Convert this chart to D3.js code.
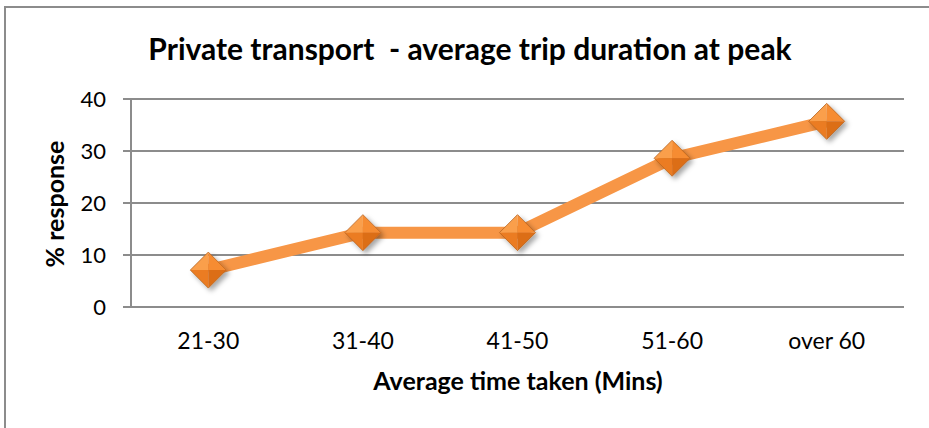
<!DOCTYPE html>
<html lang="en">
<head>
<meta charset="utf-8">
<title>Private transport</title>
<style>
  body { margin: 0; background: #fff; }
  svg { display: block; }
</style>
<script src="https://cdn.jsdelivr.net/npm/d3@7"></script>
</head>
<body>
<script>
// data
var categories = ["21-30", "31-40", "41-50", "51-60", "over 60"];
var responses = [7.1, 14.3, 14.3, 28.6, 35.7];
var yTicks = [0, 10, 20, 30, 40];

var w = 929, h = 428;
var plot = { left: 131, right: 904, top: 99, bottom: 307 };
var font = "Lato, 'Open Sans', sans-serif";

var svg = d3.select("body").append("svg")
    .attr("width", w)
    .attr("height", h);

// chart frame
svg.append("rect")
   .attr("x", 5).attr("y", 7)
   .attr("width", w + 10).attr("height", h + 10)
   .attr("fill", "#fff")
   .attr("stroke", "#8c8c8c")
   .attr("stroke-width", 2);

var defs = svg.append("defs");
var shadow = defs.append("filter").attr("id", "shadow")
    .attr("x", "-50%").attr("y", "-50%").attr("width", "200%").attr("height", "200%");
shadow.append("feDropShadow")
    .attr("dx", 3).attr("dy", 3).attr("stdDeviation", 2.5)
    .attr("flood-color", "#000").attr("flood-opacity", 0.35);

var x = d3.scaleBand().domain(categories).range([plot.left, plot.right]);
var y = d3.scaleLinear().domain([0, 40]).range([plot.bottom, plot.top]);

// gridlines
svg.append("g")
   .selectAll("line")
   .data(yTicks)
   .enter().append("line")
   .attr("x1", plot.left - 8).attr("x2", plot.right)
   .attr("y1", function (d) { return y(d); })
   .attr("y2", function (d) { return y(d); })
   .attr("stroke", "#8c8c8c")
   .attr("stroke-width", 2);

// y axis line
svg.append("line")
   .attr("x1", plot.left).attr("x2", plot.left)
   .attr("y1", plot.top).attr("y2", plot.bottom)
   .attr("stroke", "#8c8c8c")
   .attr("stroke-width", 2);

// y tick labels
svg.append("g")
   .selectAll("text")
   .data(yTicks)
   .enter().append("text")
   .attr("x", 106)
   .attr("y", function (d) { return y(d); })
   .attr("dy", "0.35em")
   .attr("text-anchor", "end")
   .style("font-family", font)
   .style("font-size", "22px")
   .attr("fill", "#000")
   .text(function (d) { return d; });

// x tick labels
svg.append("g")
   .selectAll("text")
   .data(categories)
   .enter().append("text")
   .attr("x", function (d) { return x(d) + x.bandwidth() / 2; })
   .attr("y", 349)
   .attr("text-anchor", "middle")
   .style("font-family", font)
   .style("font-size", "23px")
   .attr("fill", "#000")
   .text(function (d) { return d; });

// title (keeps the double space of the original)
svg.append("text")
   .attr("x", 470).attr("y", 60)
   .attr("text-anchor", "middle")
   .style("font-family", font)
   .style("font-weight", "bold")
   .style("font-size", "30px")
   .style("white-space", "pre")
   .text("Private transport  - average trip duration at peak");

// axis titles
svg.append("text")
   .attr("x", 518).attr("y", 390)
   .attr("text-anchor", "middle")
   .style("font-family", font)
   .style("font-weight", "bold")
   .style("font-size", "25px")
   .text("Average time taken (Mins)");

svg.append("text")
   .attr("transform", "translate(64,204) rotate(-90)")
   .attr("text-anchor", "middle")
   .style("font-family", font)
   .style("font-weight", "bold")
   .style("font-size", "25px")
   .text("% response");

// series line
var pts = categories.map(function (c, i) {
  return [x(c) + x.bandwidth() / 2, y(responses[i])];
});
svg.append("path")
   .attr("d", d3.line()(pts))
   .attr("fill", "none")
   .attr("stroke", "#f79646")
   .attr("stroke-width", 12)
   .attr("stroke-linejoin", "round");

// diamond markers with four shaded facets
var r = 18;
var facets = [
  { d: function (p) { return "M" + p[0] + "," + (p[1] - r) + "L" + (p[0] - r) + "," + p[1] + "L" + p[0] + "," + p[1] + "Z"; }, fill: "#fa9f4c" },
  { d: function (p) { return "M" + p[0] + "," + (p[1] - r) + "L" + (p[0] + r) + "," + p[1] + "L" + p[0] + "," + p[1] + "Z"; }, fill: "#f68c30" },
  { d: function (p) { return "M" + (p[0] - r) + "," + p[1] + "L" + p[0] + "," + (p[1] + r) + "L" + p[0] + "," + p[1] + "Z"; }, fill: "#eb7b20" },
  { d: function (p) { return "M" + (p[0] + r) + "," + p[1] + "L" + p[0] + "," + (p[1] + r) + "L" + p[0] + "," + p[1] + "Z"; }, fill: "#dc6e18" }
];
var markers = svg.selectAll(".marker")
    .data(pts)
    .enter().append("g")
    .attr("class", "marker")
    .attr("filter", "url(#shadow)");
facets.forEach(function (f) {
  markers.append("path")
         .attr("d", function (p) { return f.d(p); })
         .attr("fill", f.fill);
});
markers.append("path")
       .attr("d", function (p) {
         return "M" + p[0] + "," + (p[1] - r) + "L" + (p[0] + r) + "," + p[1] +
                "L" + p[0] + "," + (p[1] + r) + "L" + (p[0] - r) + "," + p[1] + "Z";
       })
       .attr("fill", "none")
       .attr("stroke", "#b8631f")
       .attr("stroke-width", 0.8);
</script>
</body>
</html>
